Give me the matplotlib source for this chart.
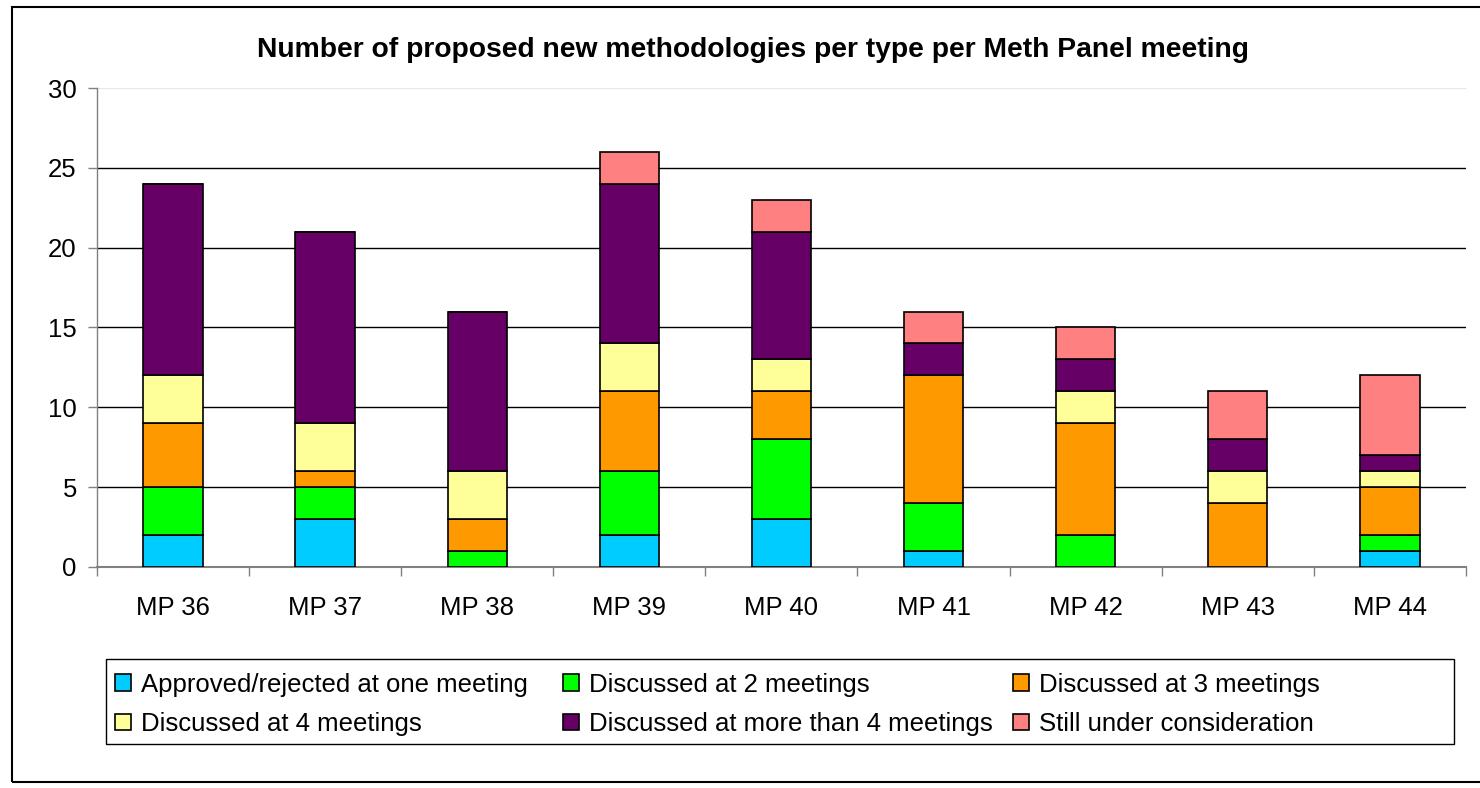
import numpy as np
import matplotlib
matplotlib.use("Agg")
import matplotlib.pyplot as plt
from matplotlib.patches import Rectangle

plt.rcParams['font.family'] = ['Liberation Sans', 'DejaVu Sans']

# Dados
reunioes = ["MP 36", "MP 37", "MP 38", "MP 39", "MP 40", "MP 41", "MP 42", "MP 43", "MP 44"]
aprovadas_uma = [2, 3, 0, 2, 3, 1, 0, 0, 1]
discutidas_2 = [3, 2, 1, 4, 5, 3, 2, 0, 1]
discutidas_3 = [4, 1, 2, 5, 3, 8, 7, 4, 3]
discutidas_4 = [3, 3, 3, 3, 2, 0, 2, 2, 1]
discutidas_mais_4 = [12, 12, 10, 10, 8, 2, 2, 2, 1]
em_consideracao = [0, 0, 0, 2, 2, 2, 2, 3, 5]

series = [
    ("Approved/rejected at one meeting", aprovadas_uma, "#00CCFF"),
    ("Discussed at 2 meetings", discutidas_2, "#00FF00"),
    ("Discussed at 3 meetings", discutidas_3, "#FF9900"),
    ("Discussed at 4 meetings", discutidas_4, "#FFFF99"),
    ("Discussed at more than 4 meetings", discutidas_mais_4, "#660066"),
    ("Still under consideration", em_consideracao, "#FF8080"),
]

fig = plt.figure(figsize=(14.8, 7.88), dpi=100)
ax = fig.add_axes([0.0655, 0.2805, 0.925, 0.6078])

x = np.arange(len(reunioes))
base = np.zeros(len(reunioes))
handles = []
for nome, valores, cor in series:
    b = ax.bar(x, valores, 0.39, bottom=base, color=cor, edgecolor="black",
               linewidth=1.2, label=nome, zorder=3)
    handles.append(b)
    base = base + np.array(valores)

ax.set_xlim(-0.5, len(reunioes) - 0.5)
ax.set_ylim(0, 30)
ax.set_yticks(range(0, 31, 5))
ax.set_xticks(x)
ax.set_xticklabels(reunioes)
ax.set_xticks(np.arange(-0.5, len(reunioes)), minor=True)
ax.tick_params(axis="x", which="major", length=0, pad=21, labelsize=18.5)
ax.tick_params(axis="x", which="minor", length=6.5, width=1, color="#808080")
ax.tick_params(axis="y", length=6.5, width=1, color="#808080", pad=8, labelsize=18.5)

ax.yaxis.grid(True, color="black", linewidth=1, zorder=0)
ax.set_axisbelow(True)
for linha, valor in zip(ax.get_ygridlines(), ax.get_yticks()):
    if valor == 30:
        linha.set_color("#e8e8e8")

for lado in ["top", "right"]:
    ax.spines[lado].set_visible(False)
ax.spines["left"].set_color("#808080")
ax.spines["bottom"].set_color("#808080")
ax.spines["left"].set_linewidth(1)
ax.spines["bottom"].set_linewidth(1.5)

fig.text(0.509, 0.937, "Number of proposed new methodologies per type per Meth Panel meeting",
         ha="center", va="center", fontsize=20.3, fontweight="bold")

# legenda: caixa + 3 colunas de largura igual
fig.patches.append(Rectangle((0.0716, 0.0558), 0.9108, 0.108, transform=fig.transFigure,
                             fill=False, edgecolor="black", linewidth=1))
colunas_x = [0.0777, 0.3804, 0.6845]
for c, xc in enumerate(colunas_x):
    idx = [c, c + 3]
    leg = fig.legend([handles[i] for i in idx], [series[i][0] for i in idx],
                     loc="upper left", bbox_to_anchor=(xc, 0.1462),
                     fontsize=18.5, frameon=False, handlelength=0.62,
                     handleheight=0.62, handletextpad=0.4, borderpad=0,
                     labelspacing=0.6, borderaxespad=0)

# moldura externa
fig.patches.append(Rectangle((0.0081, 0.0076), 1.1, 0.9835, transform=fig.transFigure,
                             fill=False, edgecolor="black", linewidth=1.5))

fig.savefig("out.png", dpi=100)
